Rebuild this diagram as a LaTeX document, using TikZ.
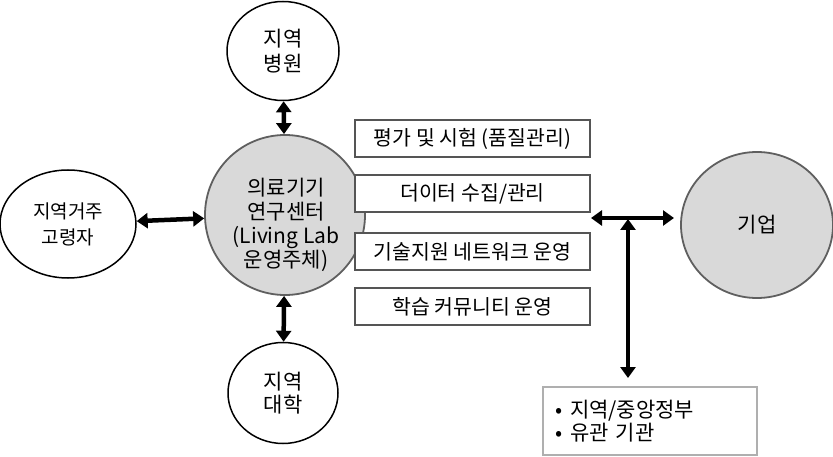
\documentclass[tikz,border=0pt]{standalone}
\usepackage{fontspec}
\setmainfont{Noto Sans CJK KR}
\usetikzlibrary{arrows.meta,shapes.geometric}
\definecolor{fillgray}{RGB}{217,217,217}
\definecolor{edgegray}{RGB}{95,95,95}
\definecolor{boxgray}{RGB}{85,85,85}
\definecolor{lightedge}{RGB}{175,175,175}
\begin{document}
\begin{tikzpicture}[x=1pt,y=-1pt,
  wcirc/.style={ellipse,draw=black,line width=1.5pt,fill=white,align=center,inner sep=0pt},
  gcirc/.style={ellipse,draw=edgegray,line width=1.8pt,fill=fillgray,align=center,inner sep=0pt},
  task/.style={rectangle,draw=boxgray,line width=2pt,fill=white,minimum width=235pt,minimum height=37pt,inner sep=0pt,font=\fontsize{20.5}{24}\selectfont},
  dbl/.style={line width=4.5pt,{Triangle[length=11pt,width=15pt]}-{Triangle[length=11pt,width=15pt]}}]
\useasboundingbox (0,0) rectangle (833,457);
% circles
\node[wcirc,minimum width=112pt,minimum height=99pt,font=\fontsize{21}{25}\selectfont] (hosp) at (283,51) {지역\\병원};
\node[wcirc,minimum width=110pt,minimum height=101pt,font=\fontsize{21}{23.5}\selectfont] (univ) at (283,393) {지역\\대학};
\node[wcirc,minimum width=136pt,minimum height=108pt,font=\fontsize{19}{26}\selectfont] (elder) at (68,224) {지역거주\\고령자};
\node[gcirc,minimum width=160pt,minimum height=160pt] (center) at (285,215) {};
\node[align=center,inner sep=0pt,font=\fontsize{21}{24}\selectfont] (centertext) at (286,225) {의료기기\\연구센터\\(Living Lab\\운영주체)};
\node[gcirc,minimum width=152pt,minimum height=146pt,font=\fontsize{21}{24}\selectfont] (corp) at (757,225) {기업};
% task boxes
\node[task] (t1) at (472.5,138.5) {평가 및 시험 (품질관리)};
\node[task] (t2) at (472.5,193.5) {더이터 수집/관리};
\node[task] (t3) at (472.5,251.5) {기술지원 네트워크 운영};
\node[task] (t4) at (472.5,306.5) {학습 커뮤니티 운영};
% government box
\node[rectangle,draw=lightedge,line width=2pt,fill=white,minimum width=214pt,minimum height=68pt,inner sep=0pt,
      text width=190pt,align=left,font=\fontsize{21}{23.5}\selectfont] (gov) at (650,421) {•\hspace{8pt}지역/중앙정부\\•\hspace{8pt}유관 기관};
% connectors
\draw[dbl] (hosp) -- (center);
\draw[dbl] (center) -- (univ);
\draw[dbl] (elder) -- (center);
\coordinate (hl) at (591,218);
\coordinate (hr) at (674,218);
\coordinate (vt) at (628,219);
\draw[dbl] (hl) -- (hr);
\draw[dbl,shorten >=8pt] (vt) -- (gov.north -| vt);
\end{tikzpicture}
\end{document}
